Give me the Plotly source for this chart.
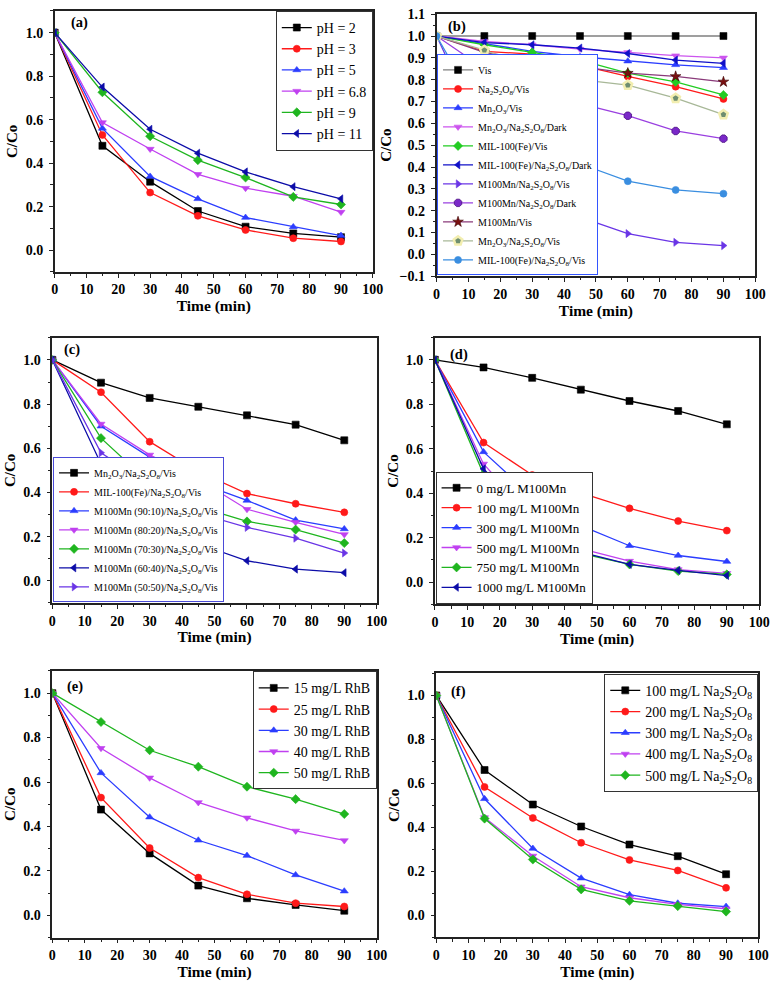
import plotly.graph_objects as go

W, H = 783, 992
FONT = "Liberation Serif"

time = [0, 15, 30, 45, 60, 75, 90]

# ---- panel (a): pH ----
a_names = ["pH = 2", "pH = 3", "pH = 5", "pH = 6.8", "pH = 9", "pH = 11"]
a_pH2 = [1.0, 0.48, 0.315, 0.18, 0.108, 0.077, 0.06]
a_pH3 = [1.0, 0.53, 0.265, 0.158, 0.093, 0.055, 0.04]
a_pH5 = [1.0, 0.56, 0.339, 0.236, 0.15, 0.107, 0.067]
a_pH68 = [1.0, 0.587, 0.465, 0.349, 0.285, 0.248, 0.175]
a_pH9 = [1.0, 0.726, 0.524, 0.414, 0.334, 0.245, 0.21]
a_pH11 = [1.0, 0.75, 0.556, 0.446, 0.36, 0.292, 0.236]

# ---- panel (b): control experiments ----
b_names = ["Vis", "Na<sub>2</sub>S<sub>2</sub>O<sub>8</sub>/Vis", "Mn<sub>2</sub>O<sub>3</sub>/Vis",
           "Mn<sub>2</sub>O<sub>3</sub>/Na<sub>2</sub>S<sub>2</sub>O<sub>8</sub>/Dark", "MIL-100(Fe)/Vis",
           "MIL-100(Fe)/Na<sub>2</sub>S<sub>2</sub>O<sub>8</sub>/Dark", "M100Mn/Na<sub>2</sub>S<sub>2</sub>O<sub>8</sub>/Vis",
           "M100Mn/Na<sub>2</sub>S<sub>2</sub>O<sub>8</sub>/Dark", "M100Mn/Vis",
           "Mn<sub>2</sub>O<sub>3</sub>/Na<sub>2</sub>S<sub>2</sub>O<sub>8</sub>/Vis",
           "MIL-100(Fe)/Na<sub>2</sub>S<sub>2</sub>O<sub>8</sub>/Vis"]
b_vis = [1.0, 1.0, 1.0, 1.0, 1.0, 1.0, 1.0]
b_pms_vis = [1.0, 0.93, 0.917, 0.865, 0.815, 0.768, 0.712]
b_mn2o3_vis = [1.0, 0.965, 0.93, 0.905, 0.885, 0.868, 0.855]
b_mn2o3_pms_dark = [1.0, 0.975, 0.96, 0.94, 0.925, 0.91, 0.90]
b_mil_vis = [1.0, 0.96, 0.925, 0.89, 0.83, 0.79, 0.73]
b_mil_pms_dark = [1.0, 0.97, 0.96, 0.945, 0.92, 0.89, 0.875]
b_m100_pms_vis = [1.0, 0.53, 0.29, 0.17, 0.095, 0.055, 0.04]
b_m100_pms_dark = [1.0, 0.85, 0.78, 0.69, 0.635, 0.565, 0.53]
b_m100_vis = [1.0, 0.925, 0.89, 0.86, 0.83, 0.815, 0.79]
b_mn2o3_pms_vis = [1.0, 0.935, 0.855, 0.80, 0.775, 0.715, 0.64]
b_mil_pms_vis = [1.0, 0.62, 0.50, 0.415, 0.335, 0.295, 0.278]

# ---- panel (c): composition ----
c_names = ["Mn<sub>2</sub>O<sub>3</sub>/Na<sub>2</sub>S<sub>2</sub>O<sub>8</sub>/Vis",
           "MIL-100(Fe)/Na<sub>2</sub>S<sub>2</sub>O<sub>8</sub>/Vis",
           "M100Mn (90:10)/Na<sub>2</sub>S<sub>2</sub>O<sub>8</sub>/Vis",
           "M100Mn (80:20)/Na<sub>2</sub>S<sub>2</sub>O<sub>8</sub>/Vis",
           "M100Mn (70:30)/Na<sub>2</sub>S<sub>2</sub>O<sub>8</sub>/Vis",
           "M100Mn (60:40)/Na<sub>2</sub>S<sub>2</sub>O<sub>8</sub>/Vis",
           "M100Mn (50:50)/Na<sub>2</sub>S<sub>2</sub>O<sub>8</sub>/Vis"]
c_mn2o3 = [1.0, 0.897, 0.828, 0.788, 0.749, 0.707, 0.636]
c_mil = [1.0, 0.854, 0.63, 0.495, 0.395, 0.349, 0.31]
c_9010 = [1.0, 0.70, 0.56, 0.445, 0.364, 0.275, 0.235]
c_8020 = [1.0, 0.71, 0.57, 0.46, 0.324, 0.265, 0.21]
c_7030 = [1.0, 0.646, 0.443, 0.336, 0.269, 0.232, 0.171]
c_6040 = [1.0, 0.529, 0.29, 0.168, 0.091, 0.053, 0.037]
c_5050 = [1.0, 0.58, 0.434, 0.306, 0.242, 0.193, 0.126]

# ---- panel (d): catalyst dosage ----
d_names = ["0 mg/L M100Mn", "100 mg/L M100Mn", "300 mg/L M100Mn",
           "500 mg/L M100Mn", "750 mg/L M100Mn", "1000 mg/L M100Mn"]
d_0 = [1.0, 0.966, 0.919, 0.866, 0.815, 0.77, 0.71]
d_100 = [1.0, 0.628, 0.482, 0.402, 0.332, 0.275, 0.232]
d_300 = [1.0, 0.586, 0.385, 0.254, 0.164, 0.12, 0.093]
d_500 = [1.0, 0.532, 0.29, 0.151, 0.095, 0.057, 0.04]
d_750 = [1.0, 0.485, 0.26, 0.13, 0.08, 0.05, 0.035]
d_1000 = [1.0, 0.51, 0.27, 0.135, 0.08, 0.053, 0.03]

# ---- panel (e): RhB concentration ----
e_names = ["15 mg/L RhB", "25 mg/L RhB", "30 mg/L RhB", "40 mg/L RhB", "50 mg/L RhB"]
e_15 = [1.0, 0.476, 0.279, 0.134, 0.077, 0.047, 0.021]
e_25 = [1.0, 0.53, 0.303, 0.17, 0.095, 0.055, 0.04]
e_30 = [1.0, 0.641, 0.442, 0.338, 0.269, 0.182, 0.109]
e_40 = [1.0, 0.752, 0.619, 0.508, 0.439, 0.38, 0.337]
e_50 = [1.0, 0.87, 0.743, 0.669, 0.579, 0.523, 0.456]

# ---- panel (f): PMS concentration ----
f_names = ["100 mg/L Na<sub>2</sub>S<sub>2</sub>O<sub>8</sub>", "200 mg/L Na<sub>2</sub>S<sub>2</sub>O<sub>8</sub>",
           "300 mg/L Na<sub>2</sub>S<sub>2</sub>O<sub>8</sub>", "400 mg/L Na<sub>2</sub>S<sub>2</sub>O<sub>8</sub>",
           "500 mg/L Na<sub>2</sub>S<sub>2</sub>O<sub>8</sub>"]
f_100 = [1.0, 0.661, 0.504, 0.404, 0.322, 0.269, 0.187]
f_200 = [1.0, 0.584, 0.443, 0.33, 0.252, 0.204, 0.125]
f_300 = [1.0, 0.53, 0.304, 0.169, 0.094, 0.055, 0.04]
f_400 = [1.0, 0.445, 0.27, 0.13, 0.08, 0.05, 0.03]
f_500 = [1.0, 0.44, 0.254, 0.118, 0.066, 0.042, 0.017]

panel_labels = ["(a)", "(b)", "(c)", "(d)", "(e)", "(f)"]

# ---- styles ----
BLACK, RED, BLUE, VIOLET, GREEN, NAVY, PURPLEB = "#000000", "#ff1a1a", "#2b3dff", "#c040f0", "#1fb51f", "#0c0ca8", "#6a35e6"
STD = [(BLACK, "square"), (RED, "circle"), (BLUE, "triangle-up"), (VIOLET, "triangle-down"),
       (GREEN, "diamond"), (NAVY, "triangle-left"), (PURPLEB, "triangle-right")]

# pixel geometry of each panel: (x0, x1, ytop, ybottom)
geo = [(51.7, 376, 4, 269), (441, 766, 7.3, 273.3),
       (49.3, 380, 335.9, 605.1), (439.3, 770, 335.7, 606.6),
       (49.3, 380, 674.1, 944.9), (440.7, 769, 676.7, 944.6)]

fig = go.Figure()


def add(panel, names, series, styles, legend_name, extra=None):
    ax = "" if panel == 1 else str(panel)
    for i, (nm, ys) in enumerate(zip(names, series)):
        col, sym = styles[i]
        lc, mc, ml, mlw, ms = col, col, col, 0.6, 7
        if extra and i in extra:
            lc, mc, ml, mlw, ms = extra[i]
        fig.add_trace(go.Scatter(
            x=time, y=ys, name=nm, mode="lines+markers",
            line=dict(color=lc, width=1.3),
            marker=dict(symbol=sym, size=ms, color=mc, line=dict(color=ml, width=mlw)),
            xaxis="x" + ax, yaxis="y" + ax, legend=legend_name))


add(1, a_names, [a_pH2, a_pH3, a_pH5, a_pH68, a_pH9, a_pH11], STD, "legend")

b_styles = [(BLACK, "square"), (RED, "circle"), (BLUE, "triangle-up"), ("#cc55ee", "triangle-down"),
            ("#22cc22", "diamond"), ("#1010c8", "triangle-left"), (PURPLEB, "triangle-right"),
            ("#8a2bd0", "octagon"), ("#7a1010", "star"), ("#6e8e70", "pentagon"), ("#3a8ee0", "circle")]
b_extra = {0: ("#7f7f7f", BLACK, BLACK, 0.5, 7),
           7: ("#9a40e0", "#7a28c8", "#4a1080", 0.8, 8),
           8: ("#8a3a7a", "#7a1010", "#3a0000", 0.6, 8),
           9: ("#a8b898", "#6e8e70", "#f2eeb0", 2.5, 9)}
add(2, b_names, [b_vis, b_pms_vis, b_mn2o3_vis, b_mn2o3_pms_dark, b_mil_vis, b_mil_pms_dark,
                 b_m100_pms_vis, b_m100_pms_dark, b_m100_vis, b_mn2o3_pms_vis, b_mil_pms_vis],
    b_styles, "legend2", b_extra)
add(3, c_names, [c_mn2o3, c_mil, c_9010, c_8020, c_7030, c_6040, c_5050], STD, "legend3")
add(4, d_names, [d_0, d_100, d_300, d_500, d_750, d_1000], STD, "legend4")
add(5, e_names, [e_15, e_25, e_30, e_40, e_50], STD, "legend5")
add(6, f_names, [f_100, f_200, f_300, f_400, f_500], STD, "legend6")

AX = "#222222"
layout = dict(width=W, height=H, margin=dict(l=0, r=0, t=0, b=0),
              paper_bgcolor="white", plot_bgcolor="white", hovermode=False,
              font=dict(family=FONT, size=14, color="black"), annotations=[])

label_pos = [(4.5, 1.045), (3, 1.045), (3, 1.045), (4, 1.025), (4, 1.03), (4, 1.02)]

for k, (x0, x1, yt, yb) in enumerate(geo):
    n = k + 1
    sfx = "" if n == 1 else str(n)
    is_b = (n == 2)
    layout["xaxis" + sfx] = dict(
        domain=[x0 / W, x1 / W], range=[0, 100], anchor="y" + sfx,
        tickvals=list(range(0, 101, 10)), ticks="outside", ticklen=4, tickwidth=1.3, tickcolor=AX,
        minor=dict(dtick=5, ticks="outside", ticklen=2.5, tickwidth=1.2, tickcolor=AX),
        showline=True, linecolor=AX, linewidth=1.5, mirror=True, showgrid=False, zeroline=False,
        tickfont=dict(family=FONT, size=14, weight="bold", color="black"),
        title=dict(text="Time (min)", font=dict(family=FONT, size=15.5, weight="bold", color="black"), standoff=2))
    if is_b:
        yticks = [round(-0.1 + 0.1 * i, 1) for i in range(13)]
        minor = dict(dtick=0.05, tick0=0, ticks="outside", ticklen=2, tickwidth=1.0, tickcolor=AX)
    else:
        yticks = [0.0, 0.2, 0.4, 0.6, 0.8, 1.0]
        minor = dict(dtick=0.1, tick0=0, ticks="outside", ticklen=2.5, tickwidth=1.2, tickcolor=AX)
    layout["yaxis" + sfx] = dict(
        domain=[1 - yb / H, 1 - yt / H], range=[-0.1, 1.1], anchor="x" + sfx,
        tickvals=yticks, tickformat=".1f", ticks="outside", ticklen=4, tickwidth=1.3, tickcolor=AX,
        ticklabelstandoff=3, minor=minor,
        showline=True, linecolor=AX, linewidth=1.5, mirror=True, showgrid=False, zeroline=False,
        tickfont=dict(family=FONT, size=14, weight="bold", color="black"),
        title=dict(text="C/Co", font=dict(family=FONT, size=15, weight="bold", color="black"), standoff=4))
    lx, ly = label_pos[k]
    layout["annotations"].append(dict(
        text=panel_labels[k], x=lx, y=ly, xref="x" + sfx, yref="y" + sfx, xanchor="left", yanchor="middle",
        showarrow=False, font=dict(family=FONT, size=14.5, weight="bold", color="black")))

leg_common = dict(bgcolor="white", borderwidth=1, itemwidth=30, tracegroupgap=0)
layout["legend"] = dict(x=376 / W, y=1 - 4 / H, xanchor="right", yanchor="top", bordercolor="#333333",
                        font=dict(family=FONT, size=14, color="black"), **leg_common)
layout["legend2"] = dict(x=441.5 / W, y=1 - 272.5 / H, xanchor="left", yanchor="bottom", bordercolor="#3355ff",
                         font=dict(family=FONT, size=10, color="black"), **leg_common)
layout["legend3"] = dict(x=50 / W, y=1 - 604.5 / H, xanchor="left", yanchor="bottom", bordercolor="#4a4ad8",
                         font=dict(family=FONT, size=10, color="black"), **leg_common)
layout["legend4"] = dict(x=440 / W, y=1 - 606 / H, xanchor="left", yanchor="bottom", bordercolor="#333333",
                         font=dict(family=FONT, size=13, color="black"), **leg_common)
layout["legend5"] = dict(x=380 / W, y=1 - 674.5 / H, xanchor="right", yanchor="top", bordercolor="#333333",
                         font=dict(family=FONT, size=14, color="black"), **leg_common)
layout["legend6"] = dict(x=769 / W, y=1 - 677 / H, xanchor="right", yanchor="top", bordercolor="#333333",
                         font=dict(family=FONT, size=14, color="black"), **leg_common)

fig.update_layout(**layout)
fig.write_html("out.html", config={"displayModeBar": False, "staticPlot": False},
               post_script="document.body.style.margin='0';document.body.style.padding='0';"
                           "document.documentElement.style.overflow='hidden';")
